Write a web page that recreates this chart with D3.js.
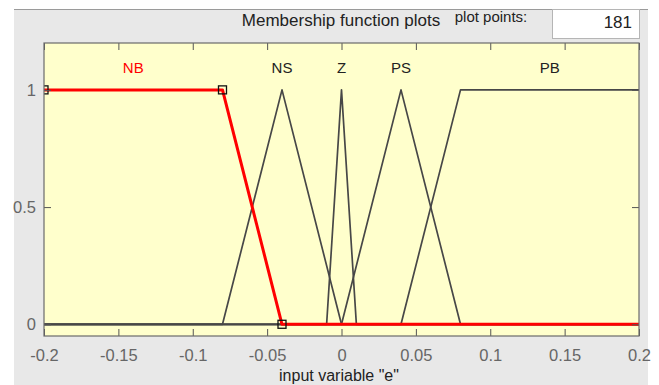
<!DOCTYPE html>
<html>
<head>
<meta charset="utf-8">
<script src="https://cdn.jsdelivr.net/npm/d3@7"></script>
<style>
  body { margin: 0; background: #fff; }
  text { font-family: "Liberation Sans", Arial, sans-serif; }
</style>
</head>
<body>
<svg id="mfChart"></svg>
<script>
var width = 659,
    height = 385;

// membership functions of input "e"
var mfNames = ["NB", "NS", "Z", "PS", "PB"];
var mfTypes = ["trapmf", "trimf", "trimf", "trimf", "trapmf"];
var mfParams = [
  [-0.2, -0.2, -0.08, -0.04],
  [-0.08, -0.04, 0],
  [-0.01, 0, 0.01],
  [0, 0.04, 0.08],
  [0.04, 0.08, 0.2, 0.2]
];
var selectedMf = "NB";
var xRange = [-0.2, 0.2];
var yRange = [-0.05, 1.2];
var xTicks = [-0.2, -0.15, -0.1, -0.05, 0, 0.05, 0.1, 0.15, 0.2];
var xTickLabels = ["-0.2", "-0.15", "-0.1", "-0.05", "0", "0.05", "0.1", "0.15", "0.2"];
var yTicks = [0, 0.5, 1];
var yTickLabels = ["0", "0.5", "1"];
var plotPoints = "181";

var svg = d3.select("#mfChart")
  .attr("width", width)
  .attr("height", height);

// window background
svg.append("rect").attr("x", 14).attr("y", 10).attr("width", 634).attr("height", height - 10).attr("fill", "#e8e8e8");

var plotLeft = 44, plotRight = 639, plotTop = 43, plotBottom = 336;

var x = d3.scaleLinear().domain(xRange).range([plotLeft, plotRight]);
var y = d3.scaleLinear().domain(yRange).range([plotBottom, plotTop]);

svg.append("rect")
  .attr("x", plotLeft).attr("y", plotTop)
  .attr("width", plotRight - plotLeft).attr("height", plotBottom - plotTop)
  .attr("fill", "#ffffcc");

svg.append("clipPath").attr("id", "plotClip")
  .append("rect")
  .attr("x", plotLeft).attr("y", plotTop)
  .attr("width", plotRight - plotLeft).attr("height", plotBottom - plotTop);

// vertices of each mf over the whole range
function mfPoints(type, p) {
  var pts = [];
  if (type == "trimf") {
    pts.push([xRange[0], 0], [p[0], 0], [p[1], 1], [p[2], 0], [xRange[1], 0]);
  } else {
    if (p[0] == p[1]) pts.push([p[0], 1]);
    else pts.push([xRange[0], 0], [p[0], 0], [p[1], 1]);
    if (p[2] == p[3]) pts.push([p[3], 1]);
    else pts.push([p[2], 1], [p[3], 0], [xRange[1], 0]);
  }
  return pts;
}

var line = d3.line().x(function(d) { return x(d[0]); }).y(function(d) { return y(d[1]); });

var curves = svg.append("g").attr("clip-path", "url(#plotClip)");

var order = mfNames.map(function(d, i) { return i; })
  .sort(function(a, b) { return (mfNames[a] == selectedMf) - (mfNames[b] == selectedMf); });

curves.selectAll("path")
  .data(order)
  .enter().append("path")
  .attr("d", function(i) { return line(mfPoints(mfTypes[i], mfParams[i])); })
  .attr("fill", "none")
  .attr("stroke", function(i) { return mfNames[i] == selectedMf ? "#ff0000" : "#474747"; })
  .attr("stroke-width", function(i) { return mfNames[i] == selectedMf ? 3 : 1.7; })
  .attr("stroke-linejoin", "round");

// square handles on the selected mf
var sel = mfNames.indexOf(selectedMf);
var sp = mfParams[sel];
var handles = [[sp[0], 1], [sp[2], 1], [sp[3], 0]];
curves.selectAll(".handle")
  .data(handles)
  .enter().append("rect")
  .attr("class", "handle")
  .attr("x", function(d) { return x(d[0]) - 4; })
  .attr("y", function(d) { return y(d[1]) - 4; })
  .attr("width", 8).attr("height", 8)
  .attr("fill", "none")
  .attr("stroke", "#111")
  .attr("stroke-width", 1.3);

// mf names above the plateau / peak
svg.selectAll(".mfLabel")
  .data(mfNames)
  .enter().append("text")
  .attr("class", "mfLabel")
  .attr("x", function(d, i) {
    var p = mfParams[i];
    var c = mfTypes[i] == "trimf" ? p[1] : (p[1] + p[2]) / 2;
    return x(c);
  })
  .attr("y", 73)
  .attr("text-anchor", "middle")
  .attr("font-size", "15px")
  .attr("fill", function(d) { return d == selectedMf ? "#ff0000" : "#222"; })
  .text(function(d) { return d; });

// axes with inward ticks
function styleAxis(g) {
  g.select(".domain").remove();
  g.selectAll(".tick line").attr("stroke", "#555");
  g.selectAll(".tick text").attr("fill", "#666").attr("font-size", "16.5px")
    .style("font-family", "'Liberation Sans', Arial, sans-serif");
}

svg.append("g")
  .attr("transform", "translate(0," + plotBottom + ")")
  .call(d3.axisBottom(x).tickValues(xTicks).tickSize(-7).tickPadding(13)
    .tickFormat(function(d, i) { return xTickLabels[i]; }))
  .call(styleAxis);

svg.append("g")
  .attr("transform", "translate(0," + plotTop + ")")
  .call(d3.axisTop(x).tickValues(xTicks).tickSize(-7).tickFormat(""))
  .call(styleAxis);

svg.append("g")
  .attr("transform", "translate(" + plotLeft + ",0)")
  .call(d3.axisLeft(y).tickValues(yTicks).tickSize(-7).tickPadding(8)
    .tickFormat(function(d, i) { return yTickLabels[i]; }))
  .call(styleAxis);

svg.append("g")
  .attr("transform", "translate(" + plotRight + ",0)")
  .call(d3.axisRight(y).tickValues(yTicks).tickSize(-7).tickFormat(""))
  .call(styleAxis);

svg.append("rect")
  .attr("x", plotLeft).attr("y", plotTop)
  .attr("width", plotRight - plotLeft).attr("height", plotBottom - plotTop)
  .attr("fill", "none").attr("stroke", "#6a6a6a").attr("stroke-width", 1.2);

// titles
svg.append("text")
  .attr("x", 341).attr("y", 26)
  .attr("text-anchor", "middle")
  .attr("font-size", "17px")
  .attr("fill", "#222")
  .text("Membership function plots");

svg.append("text")
  .attr("x", 491).attr("y", 22)
  .attr("text-anchor", "middle")
  .attr("font-size", "15px")
  .attr("fill", "#222")
  .text("plot points:");

svg.append("text")
  .attr("x", 339).attr("y", 381)
  .attr("text-anchor", "middle")
  .attr("font-size", "16px")
  .attr("fill", "#222")
  .text("input variable \"e\"");

// white strip on top and the plot points box
svg.append("rect").attr("x", 0).attr("y", 0).attr("width", width).attr("height", 9.5).attr("fill", "#fff");
svg.append("line").attr("x1", 14).attr("x2", 648).attr("y1", 9.5).attr("y2", 9.5).attr("stroke", "#9a9a9a");

svg.append("rect")
  .attr("x", 552.5).attr("y", 9.5).attr("width", 87).attr("height", 29)
  .attr("fill", "#fff").attr("stroke", "#b5b5b5");

svg.append("text")
  .attr("x", 632).attr("y", 28)
  .attr("text-anchor", "end")
  .attr("font-size", "17px")
  .attr("fill", "#222")
  .text(plotPoints);
</script>
</body>
</html>
